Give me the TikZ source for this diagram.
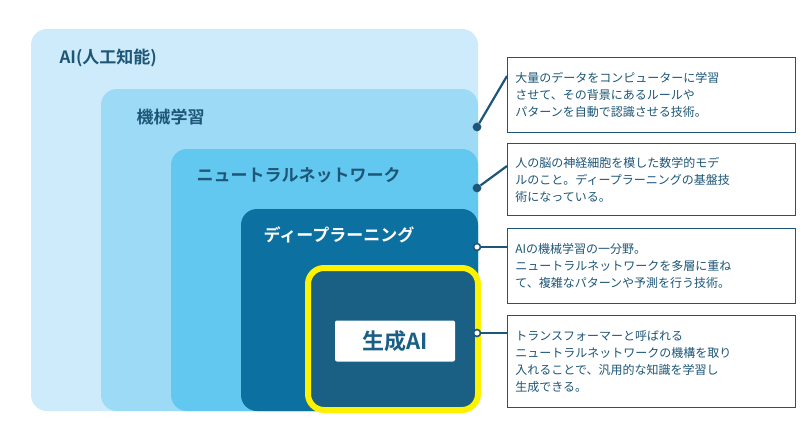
\documentclass[tikz,border=0pt]{standalone}
\usepackage{fontspec}
\setmainfont{Noto Sans CJK JP}
\newfontfamily\jpbold{Noto Sans CJK JP Bold}
\usetikzlibrary{positioning}
\definecolor{ailayer}{HTML}{CDEBFA}
\definecolor{mllayer}{HTML}{9DDAF5}
\definecolor{nnlayer}{HTML}{62C8EF}
\definecolor{dllayer}{HTML}{0C70A0}
\definecolor{genlayer}{HTML}{1A5F84}
\definecolor{inkblue}{HTML}{1D5677}
\definecolor{hiyellow}{HTML}{FFF200}
\begin{document}
\begin{tikzpicture}[x=1pt,y=-1pt,
  layer/.style={rounded corners=16pt},
  title/.style={anchor=west,font=\jpbold\fontsize{17}{20}\selectfont,text=inkblue},
  note/.style={draw=inkblue,thick,fill=white,anchor=north west,minimum width=288pt,
    text width=272pt,align=left,inner sep=8pt,font=\fontsize{12}{17}\selectfont,text=inkblue},
  leader/.style={inkblue,line width=2.2pt},
  dot/.style={circle,draw=inkblue,line width=1.6pt,inner sep=0pt,minimum size=7pt}]
  \useasboundingbox (0,0) rectangle (800,440);
  % nested layers
  \fill[layer,ailayer] (31,29) rectangle (478,411);
  \fill[layer,mllayer] (101,89) rectangle (478,411);
  \fill[layer,nnlayer] (171,149) rectangle (478,411);
  \fill[layer,dllayer] (241,209) rectangle (478,411);
  \draw[layer,genlayer,fill=genlayer,draw=hiyellow,line width=6pt] (308,268) rectangle (478,410);
  \node[title] (ai) at (56,58) {AI(人工知能)};
  \node[title] (ml) at (133,117) {機械学習};
  \node[title] (nn) at (193,175) {ニュートラルネットワーク};
  \node[title,text=white] (dl) at (260,235) {ディープラーニング};
  \node[fill=white,rounded corners=2pt,minimum width=120pt,minimum height=41pt,
    font=\jpbold\fontsize{22}{26}\selectfont,text=genlayer] (gen) at (395,341) {生成AI};
  % notes
  \node[note,minimum height=75pt] (n1) at (507,57) {大量のデータをコンピューターに学習\\させて、その背景にあるルールや\\パターンを自動で認識させる技術。};
  \node[note,minimum height=72pt] (n2) at (507,143) {人の脳の神経細胞を模した数学的モデ\\ルのこと。ディープラーニングの基盤技\\術になっている。};
  \node[note,minimum height=75pt] (n3) at (507,228) {AIの機械学習の一分野。\\ニュートラルネットワークを多層に重ね\\て、複雑なパターンや予測を行う技術。};
  \node[note,minimum height=92pt] (n4) at (507,315) {トランスフォーマーと呼ばれる\\ニュートラルネットワークの機構を取り\\入れることで、汎用的な知識を学習し\\生成できる。};
  % leaders
  \coordinate (c1) at (507,76);
  \coordinate (c2) at (507,166);
  \coordinate (c3) at (507,247);
  \coordinate (c4) at (507,333);
  \node[dot,fill=inkblue] (d1) at (477,127) {};
  \node[dot,fill=inkblue] (d2) at (477,188) {};
  \node[dot,fill=white] (d3) at (477,247) {};
  \node[dot,fill=white] (d4) at (477,333) {};
  \draw[leader] (d1) -- (c1);
  \draw[leader] (d2) -- (c2);
  \draw[leader] (d3) -- (c3);
  \draw[leader] (d4) -- (c4);
\end{tikzpicture}
\end{document}
